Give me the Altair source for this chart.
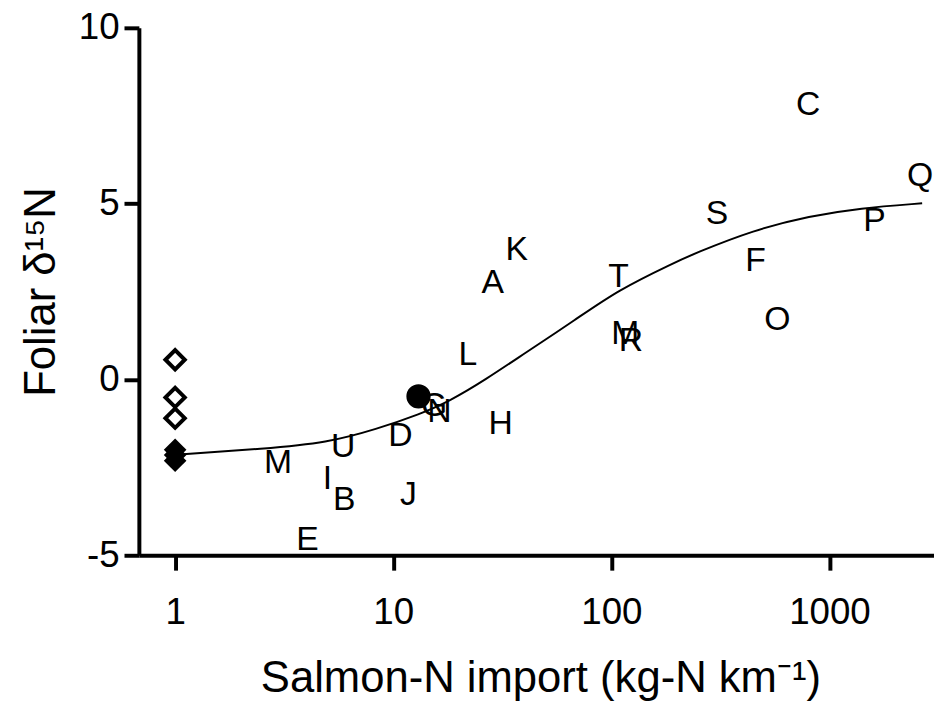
import altair as alt
import pandas as pd

# Site labels (text markers)
site_labels = ["M", "E", "I", "B", "U", "D", "J", "G", "N", "H", "L",
               "A", "K", "T", "M", "R", "S", "F", "O", "C", "P", "Q"]
site_x = [2.96, 4.04, 4.99, 5.96, 5.9, 10.8, 11.75, 15.4, 16.3, 31.1, 22.0,
          28.6, 36.8, 108, 116, 123, 305, 458, 577, 798, 1611, 2607]
site_y = [-2.39, -4.56, -2.82, -3.44, -1.92, -1.6, -3.3, -0.76, -0.93, -1.27, 0.70,
          2.73, 3.69, 2.9, 1.30, 1.10, 4.70, 3.38, 1.69, 7.8, 4.51, 5.77]

# Reference sites (no salmon) plotted at x = 1
open_diamond_x = [1, 1, 1]
open_diamond_y = [0.56, -0.51, -1.10]
filled_diamond_x = [1, 1, 1]
filled_diamond_y = [-2.0, -2.15, -2.31]

# Filled circle
circle_x = [13.06]
circle_y = [-0.48]

# Fitted curve
curve_x = [1.0, 2.58, 4.99, 8.41, 13.2, 18.1, 26.6, 40.4, 68.2, 107, 194, 240, 449, 815, 1374, 2661]
curve_y = [-2.14, -1.97, -1.80, -1.41, -0.99, -0.62, 0.0, 0.76, 1.69, 2.54, 3.32, 3.58, 4.25, 4.65, 4.87, 5.01]

x_ticks = [1, 10, 100, 1000]
y_ticks = [-5, 0, 5, 10]

sites = pd.DataFrame({"x": site_x, "y": site_y, "label": site_labels})
open_d = pd.DataFrame({"x": open_diamond_x, "y": open_diamond_y})
filled_d = pd.DataFrame({"x": filled_diamond_x, "y": filled_diamond_y})
circ = pd.DataFrame({"x": circle_x, "y": circle_y})
curve = pd.DataFrame({"x": curve_x, "y": curve_y})

xscale = alt.Scale(type="log", domain=[0.682, 3016], nice=False)
yscale = alt.Scale(domain=[-5, 10], nice=False, zero=False)

xaxis = alt.Axis(
    values=x_ticks, labelExpr="'' + datum.value", grid=False,
    title="Salmon-N import (kg-N km⁻¹)",
    titleX=405, titleY=124, titleBaseline="middle", titleAlign="center",
    labelPadding=25,
)
yaxis = alt.Axis(
    values=y_ticks, labelExpr="'' + datum.value", grid=False,
    title="Foliar δ¹⁵N",
    titleX=-98, titleY=266, titleBaseline="middle", titleAlign="center", titleAngle=-90,
    labelPadding=5,
)

X = alt.X("x:Q", scale=xscale, axis=xaxis)
Y = alt.Y("y:Q", scale=yscale, axis=yaxis)

line = alt.Chart(curve).mark_line(color="black", strokeWidth=2, interpolate="basis").encode(x=X, y=Y)

open_pts = alt.Chart(open_d).mark_point(
    shape="diamond", size=380, filled=False, stroke="black", strokeWidth=4, opacity=1
).encode(x="x:Q", y="y:Q")

filled_pts = alt.Chart(filled_d).mark_point(
    shape="diamond", size=520, filled=True, color="black", opacity=1
).encode(x="x:Q", y="y:Q")

circle_pt = alt.Chart(circ).mark_point(
    shape="circle", size=600, filled=True, color="black", opacity=1
).encode(x="x:Q", y="y:Q")

text = alt.Chart(sites).mark_text(
    font="Liberation Sans", fontSize=34, color="black", align="center", baseline="middle"
).encode(x="x:Q", y="y:Q", text="label:N")

chart = alt.layer(line, open_pts, filled_pts, circle_pt, text).properties(
    width=802, height=532,
    autosize=alt.AutoSizeParams(type="none"),
    padding={"left": 132, "top": 17, "right": 0, "bottom": 147},
).configure_view(stroke=None).configure_axis(
    domainColor="black", domainWidth=4, tickColor="black", tickWidth=4, tickSize=15,
    labelFont="Liberation Sans", labelFontSize=37, labelColor="black",
    titleFont="Liberation Sans", titleFontSize=44, titleColor="black", titleFontWeight="normal",
)

chart.save("out.html", embed_options={"renderer": "svg", "actions": False})
